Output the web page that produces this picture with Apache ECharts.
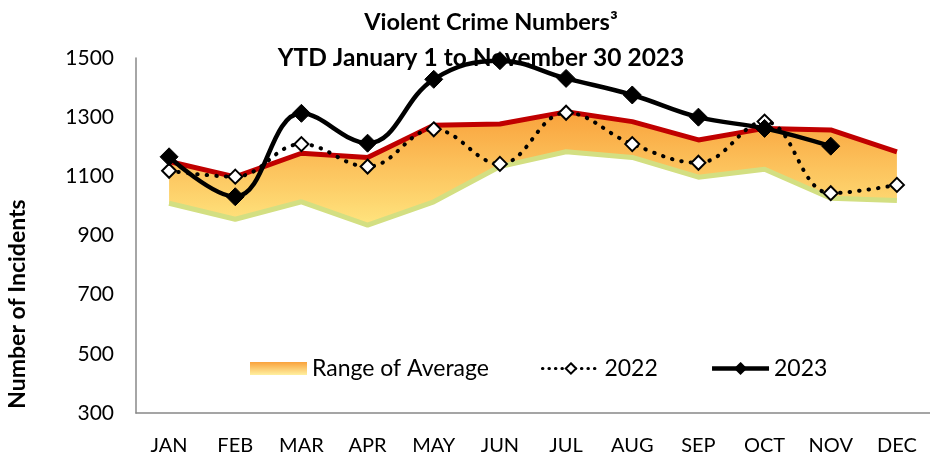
<!DOCTYPE html>
<html><head><meta charset="utf-8">
<script src="https://cdn.jsdelivr.net/npm/echarts@6/dist/echarts.min.js"></script>
<style>html,body{margin:0;padding:0;background:#fff}#c{width:930px;height:458px}</style>
</head><body><div id="c"></div>
<script>
const months = ['JAN','FEB','MAR','APR','MAY','JUN','JUL','AUG','SEP','OCT','NOV','DEC'];
const avgHigh = [1150,1098,1178,1164,1273,1277,1318,1285,1223,1262,1257,1183];
const avgLow = [1009,955,1014,935,1014,1133,1183,1164,1097,1124,1026,1018];
const y2022 = [1119,1099,1209,1133,1259,1142,1315,1209,1146,1285,1043,1071];
const y2023 = [1166,1031,1313,1212,1428,1491,1431,1375,1300,1262,1202];
const yTicks = [300,500,700,900,1100,1300,1500];

const FONT = 'Lato';
const rangeDiff = avgHigh.map((h,i)=>h-avgLow[i]);
const grad = new echarts.graphic.LinearGradient(0,0,0,1,[{offset:0,color:'#f9a23c'},{offset:1,color:'#ffe47e'}]);
const legendGrad = new echarts.graphic.LinearGradient(0,0,0,1,[{offset:0,color:'#f9a23c'},{offset:1,color:'#fff0a0'}]);

const chart = echarts.init(document.getElementById('c'));
chart.setOption({
  animation:false,
  title:[
    {text:'Violent Crime Numbers\u00B3',left:486,top:5,textAlign:'center',textStyle:{fontFamily:FONT,fontWeight:'bold',fontSize:23.5,color:'#000'}},
    {text:'YTD January 1 to November 30 2023',left:476,top:41,textAlign:'center',textStyle:{fontFamily:FONT,fontWeight:'bold',fontSize:24.5,color:'#000'}}
  ],
  graphic:[{type:'text',x:18,y:304,rotation:Math.PI/2,style:{text:'Number of Incidents',font:'bold 23px '+FONT,fill:'#000',align:'center',verticalAlign:'middle'}}],
  legend:{
    left:245, top:352, itemWidth:57, itemHeight:13, itemGap:52,
    textStyle:{fontFamily:FONT,fontSize:23,color:'#000'},
    data:[
      {name:'Range of Average',icon:'rect',itemStyle:{color:legendGrad}},
      {name:'2022',lineStyle:{width:3,type:[0.5,6],cap:'round',color:'#000'}},
      {name:'2023',lineStyle:{width:4.5,color:'#000'}}
    ]
  },
  grid:{left:136,top:58,width:805,height:355},
  xAxis:{type:'category',data:months,boundaryGap:true,
    axisLine:{lineStyle:{color:'#888',width:1.5}},axisTick:{show:false},
    axisLabel:{fontFamily:FONT,fontSize:20,color:'#000',margin:23}},
  yAxis:{type:'value',min:yTicks[0],max:yTicks[yTicks.length-1],interval:200,
    axisLine:{show:true,lineStyle:{color:'#888',width:1.5}},axisTick:{show:false},splitLine:{show:false},
    axisLabel:{fontFamily:FONT,fontSize:21,color:'#000',margin:22,formatter:v=>String(v)}},
  series:[
    {name:'low',type:'line',stack:'avg',data:avgLow,symbol:'none',lineStyle:{color:'#d3df82',width:5},z:2},
    {name:'Range of Average',type:'line',stack:'avg',data:rangeDiff,symbol:'none',lineStyle:{width:0},areaStyle:{color:grad,opacity:1},itemStyle:{color:legendGrad},z:1},
    {name:'high',type:'line',data:avgHigh,symbol:'none',lineStyle:{color:'#c00000',width:5},z:3},
    {name:'2022',type:'line',data:y2022,smooth:0.4,symbol:'diamond',symbolSize:14,
      itemStyle:{color:'#fff',borderColor:'#000',borderWidth:2},
      lineStyle:{color:'#000',width:4,type:[0.5,9],cap:'round'},z:4},
    {name:'2023',type:'line',data:y2023,smooth:0.4,symbol:'diamond',symbolSize:18,
      itemStyle:{color:'#000',borderColor:'#000',borderWidth:1},
      lineStyle:{color:'#000',width:4.5},z:5}
  ]
});
</script></body></html>
